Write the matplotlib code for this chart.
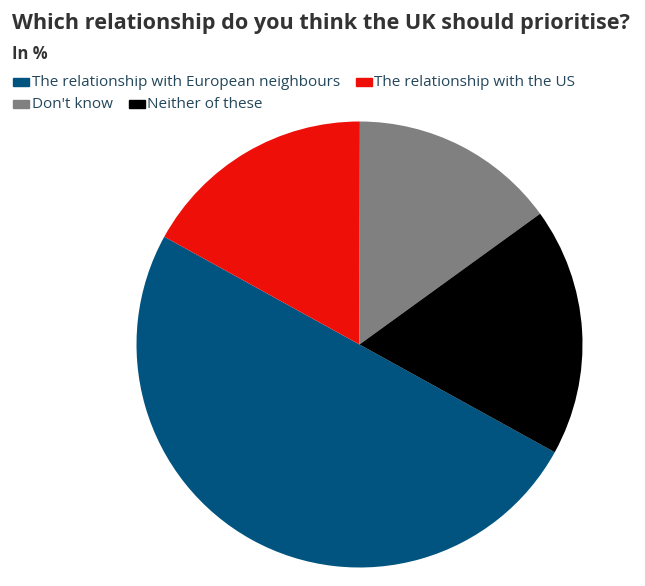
import matplotlib
matplotlib.use("Agg")
import matplotlib.pyplot as plt
from matplotlib.patches import Rectangle

categories = ["The relationship with European neighbours", "The relationship with the US",
              "Don't know", "Neither of these"]
values = [50, 17, 15, 18]
colors = ["#00547f", "#ee0f09", "#808080", "#000000"]

W, H = 645, 586
fig = plt.figure(figsize=(W / 100, H / 100), dpi=100)
plt.rcParams['font.family'] = ['Open Sans', 'DejaVu Sans']

# pie axes: center (359,345) px, radius 223 px
cx, cy, r = 359.5, 344.5, 223
ax = fig.add_axes([(cx - r) / W, (H - cy - r) / H, 2 * r / W, 2 * r / H])
ax.pie(values, colors=colors, startangle=-28.9, counterclock=False, radius=1,
       wedgeprops=dict(linewidth=0))
ax.set_xlim(-1, 1)
ax.set_ylim(-1, 1)
ax.set_aspect('equal')
ax.axis('off')

fig.text(12 / W, 1 - 23 / H, "Which relationship do you think the UK should prioritise?",
         fontsize=15.6, fontweight='bold', color='#333333', va='center', ha='left')
fig.text(12 / W, 1 - 54 / H, "In %", fontsize=12, fontweight='bold', color='#333333',
         va='center', ha='left')

# legend, flow layout
rows = [[0, 1], [2, 3]]
row_y = [82, 104]
fig.canvas.draw()
renderer = fig.canvas.get_renderer()
for row, y in zip(rows, row_y):
    x = 13
    for i in row:
        fig.patches.append(Rectangle((x / W, 1 - (y + 4) / H), 16 / W, 8 / H,
                                     transform=fig.transFigure, color=colors[i]))
        t = fig.text((x + 18.5) / W, 1 - (y + 1) / H, categories[i], fontsize=11,
                     color='#24475c', va='center', ha='left')
        bb = t.get_window_extent(renderer)
        x = x + 18.5 + bb.width + 16

fig.savefig("out.png", dpi=100)
